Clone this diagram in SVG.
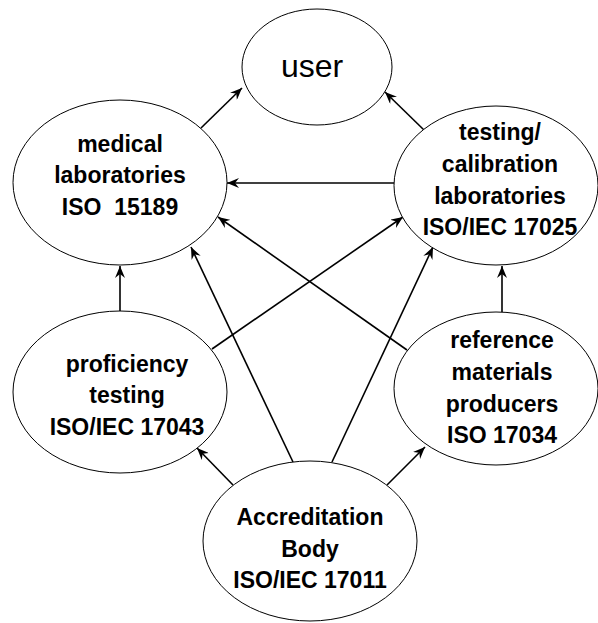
<svg xmlns="http://www.w3.org/2000/svg" width="598" height="623" viewBox="0 0 598 623">
  <defs>
    <marker id="arrow" viewBox="0 0 12 10" refX="12" refY="5" markerWidth="12" markerHeight="10" markerUnits="userSpaceOnUse" orient="auto">
      <path d="M0,0 L12,5 L0,10 L4,5 z" fill="#000"/>
    </marker>
    <style>
      .node ellipse { fill: #fff; stroke: #000; stroke-width: 1; }
      .node text { font-family: "Liberation Sans", Arial, sans-serif; font-weight: bold; font-size: 23px; text-anchor: middle; fill: #000; white-space: pre; }
      #user text { font-weight: normal; font-size: 32px; }
      #connectors line { stroke: #000; stroke-width: 1.6; marker-end: url(#arrow); }
    </style>
  </defs>
  <rect width="598" height="623" fill="#fff"/>

  <g id="connectors">
    <line x1="201" y1="128" x2="242" y2="88"/>
    <line x1="424" y1="130" x2="385" y2="92"/>
    <line x1="394" y1="183" x2="227" y2="183"/>
    <line x1="120" y1="311" x2="120" y2="266"/>
    <line x1="502" y1="312" x2="502" y2="266"/>
    <line x1="212" y1="349" x2="403" y2="217"/>
    <line x1="407" y1="350" x2="218" y2="217"/>
    <line x1="293" y1="462" x2="191" y2="247"/>
    <line x1="332" y1="462" x2="433" y2="247"/>
    <line x1="233" y1="485" x2="197" y2="448"/>
    <line x1="387" y1="485" x2="425" y2="447"/>
  </g>

  <g id="user" class="node">
    <ellipse cx="317" cy="67" rx="75" ry="58"/>
    <text x="312" y="77">user</text>
  </g>

  <g id="medical" class="node">
    <ellipse cx="120" cy="182.5" rx="107" ry="82.5"/>
    <text x="120" y="152">medical</text>
    <text x="120" y="183">laboratories</text>
    <text x="120" y="215">ISO  15189</text>
  </g>

  <g id="testing" class="node">
    <ellipse cx="496" cy="185.5" rx="102" ry="79.5"/>
    <text x="500" y="140">testing/</text>
    <text x="500" y="172">calibration</text>
    <text x="500" y="204">laboratories</text>
    <text x="500" y="235">ISO/IEC 17025</text>
  </g>

  <g id="proficiency" class="node">
    <ellipse cx="120" cy="392" rx="107" ry="81"/>
    <text x="127" y="372">proficiency</text>
    <text x="127" y="403">testing</text>
    <text x="127" y="435">ISO/IEC 17043</text>
  </g>

  <g id="reference" class="node">
    <ellipse cx="496" cy="388.5" rx="102" ry="76.5"/>
    <text x="502" y="348">reference</text>
    <text x="502" y="380">materials</text>
    <text x="502" y="412">producers</text>
    <text x="502" y="443">ISO 17034</text>
  </g>

  <g id="accreditation" class="node">
    <ellipse cx="310" cy="541" rx="107" ry="80"/>
    <text x="310" y="525">Accreditation</text>
    <text x="310" y="557">Body</text>
    <text x="310" y="588">ISO/IEC 17011</text>
  </g>
</svg>
